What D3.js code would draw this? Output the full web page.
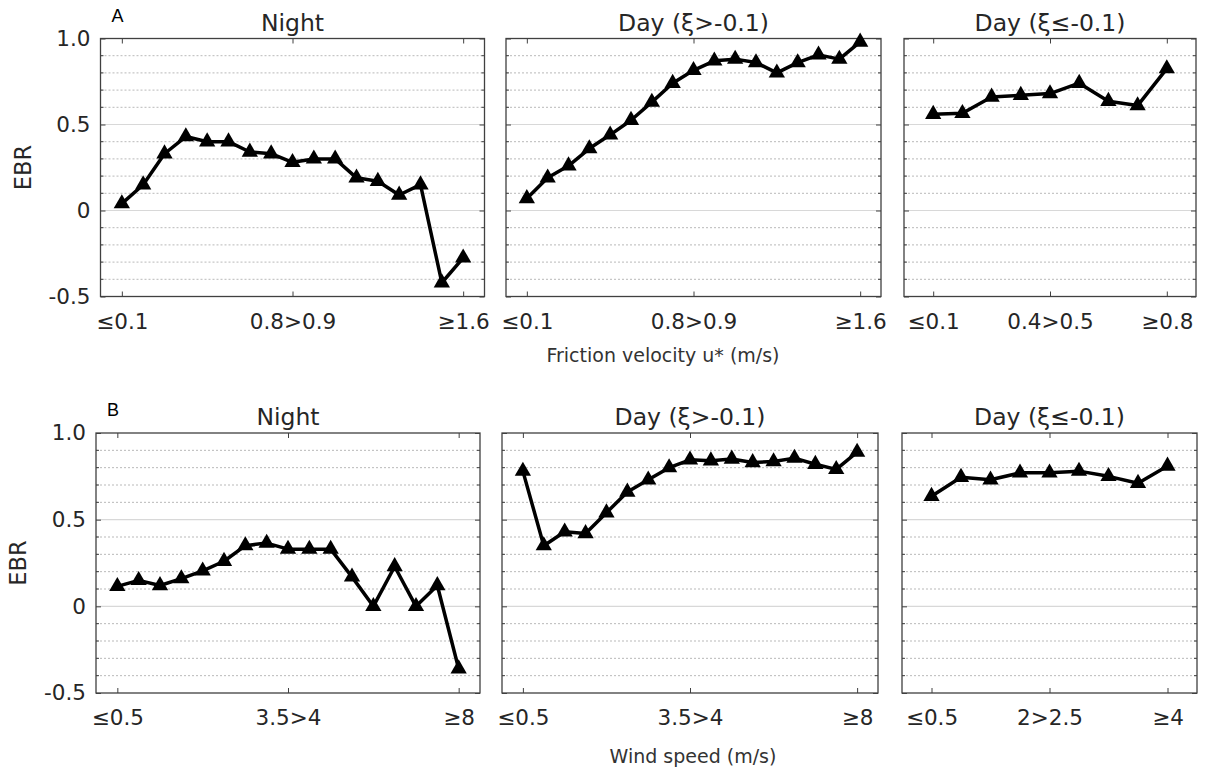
<!DOCTYPE html>
<html>
<head>
<meta charset="utf-8">
<script src="https://cdn.jsdelivr.net/npm/d3@7"></script>
<style>
  body { margin: 0; background: #fff; }
  svg { display: block; }
</style>
</head>
<body>
<svg id="chart" width="1205" height="771"></svg>
<script>
// Energy balance ratio (EBR) binned by friction velocity u*
const ebrUstarNight = [0.04, 0.15, 0.33, 0.43, 0.40, 0.40, 0.34, 0.33, 0.28, 0.30, 0.30, 0.19, 0.17, 0.09, 0.15, -0.42, -0.275];
const ebrUstarDayNeutral = [0.07, 0.19, 0.26, 0.36, 0.44, 0.525, 0.63, 0.74, 0.815, 0.87, 0.88, 0.86, 0.80, 0.86, 0.905, 0.88, 0.98];
const ebrUstarDayUnstable = [0.56, 0.565, 0.66, 0.67, 0.68, 0.74, 0.635, 0.61, 0.825];

// Energy balance ratio (EBR) binned by wind speed
const ebrWindNight = [0.115, 0.15, 0.12, 0.16, 0.205, 0.26, 0.35, 0.365, 0.33, 0.33, 0.33, 0.17, 0.0, 0.23, 0.0, 0.12, -0.36];
const ebrWindDayNeutral = [0.78, 0.35, 0.43, 0.42, 0.54, 0.66, 0.73, 0.80, 0.845, 0.84, 0.85, 0.83, 0.835, 0.855, 0.82, 0.79, 0.89];
const ebrWindDayUnstable = [0.635, 0.745, 0.73, 0.77, 0.77, 0.78, 0.75, 0.71, 0.81];

// Panel titles and axis texts
const panelTitles = ["Night", "Day (ξ>-0.1)", "Day (ξ≤-0.1)"];
const rowLetters = ["A", "B"];
const rowAxisLabels = ["Friction velocity u* (m/s)", "Wind speed (m/s)"];
const yAxisLabel = "EBR";

// Y ticks
const ebrMajorTicks = [-0.5, 0, 0.5, 1.0];
const ebrMajorTickLabels = ["-0.5", "0", "0.5", "1.0"];
const ebrMinorTicks = [-0.4, -0.3, -0.2, -0.1, 0.1, 0.2, 0.3, 0.4, 0.6, 0.7, 0.8, 0.9];

// X ticks (bin index and label)
const wideTickBins = [0, 8, 16];
const narrowTickBins = [0, 4, 8];
const ustarWideTickLabels = ["≤0.1", "0.8>0.9", "≥1.6"];
const ustarNarrowTickLabels = ["≤0.1", "0.4>0.5", "≥0.8"];
const windWideTickLabels = ["≤0.5", "3.5>4", "≥8"];
const windNarrowTickLabels = ["≤0.5", "2>2.5", "≥4"];

const FONT = "'DejaVu Sans', Verdana, sans-serif";
const TEXT = "#262626";
const AXIS = "#404040";

const svg = d3.select("#chart");

const rows = [
  {
    letter: rowLetters[0], axisLabel: rowAxisLabels[0],
    top: 38.5, bottom: 296.5, labelX: 663, labelY: 362,
    spans: [[100.5, 484.5], [506, 881], [904, 1196]],
    series: [ebrUstarNight, ebrUstarDayNeutral, ebrUstarDayUnstable],
    tickBins: [wideTickBins, wideTickBins, narrowTickBins],
    tickLabels: [ustarWideTickLabels, ustarWideTickLabels, ustarNarrowTickLabels]
  },
  {
    letter: rowLetters[1], axisLabel: rowAxisLabels[1],
    top: 433, bottom: 693, labelX: 693, labelY: 763,
    spans: [[96, 480], [502, 878], [902, 1197]],
    series: [ebrWindNight, ebrWindDayNeutral, ebrWindDayUnstable],
    tickBins: [wideTickBins, wideTickBins, narrowTickBins],
    tickLabels: [windWideTickLabels, windWideTickLabels, windNarrowTickLabels]
  }
];

rows.forEach(row => {
  const y = d3.scaleLinear().domain([-0.5, 1.0]).range([row.bottom, row.top]);

  row.spans.forEach((span, p) => {
    const values = row.series[p];
    const x = d3.scaleLinear().domain([-1, values.length]).range(span);
    const g = svg.append("g");
    const [x0, x1] = span;

    // minor grid (dotted)
    g.append("g").selectAll("line").data(ebrMinorTicks).join("line")
      .attr("x1", x0).attr("x2", x1)
      .attr("y1", d => y(d)).attr("y2", d => y(d))
      .attr("stroke", "#b9b9b9").attr("stroke-width", 1)
      .attr("stroke-dasharray", "2,2");

    // major grid (solid)
    g.append("g").selectAll("line").data(ebrMajorTicks.filter(d => d > -0.5 && d < 1)).join("line")
      .attr("x1", x0).attr("x2", x1)
      .attr("y1", d => y(d)).attr("y2", d => y(d))
      .attr("stroke", "#d8d8d8").attr("stroke-width", 1.2);

    // bottom axis with tick labels (ticks point inward)
    const bottomAxis = d3.axisBottom(x)
      .tickValues(row.tickBins[p])
      .tickFormat((d, i) => row.tickLabels[p][i])
      .tickSizeInner(-5).tickSizeOuter(0).tickPadding(17);
    const gb = g.append("g").attr("transform", `translate(0,${row.bottom})`).call(bottomAxis);
    gb.select(".domain").remove();
    gb.selectAll("line").attr("stroke", AXIS);
    gb.selectAll("text").attr("font-family", FONT).attr("font-size", 21.5).attr("fill", TEXT);

    // top axis (ticks only)
    const topAxis = d3.axisTop(x).tickValues(row.tickBins[p]).tickFormat("")
      .tickSizeInner(-5).tickSizeOuter(0);
    const gt = g.append("g").attr("transform", `translate(0,${row.top})`).call(topAxis);
    gt.select(".domain").remove();
    gt.selectAll("line").attr("stroke", AXIS);

    // left axis: labels only on the first panel
    const leftAxis = d3.axisLeft(y).tickValues(ebrMajorTicks)
      .tickFormat((d, i) => p === 0 ? ebrMajorTickLabels[i] : "")
      .tickSizeInner(-5).tickSizeOuter(0).tickPadding(10);
    const gl = g.append("g").attr("transform", `translate(${x0},0)`).call(leftAxis);
    gl.select(".domain").remove();
    gl.selectAll("line").attr("stroke", AXIS);
    gl.selectAll("text").attr("font-family", FONT).attr("font-size", 21.5).attr("fill", TEXT);

    const rightAxis = d3.axisRight(y).tickValues(ebrMajorTicks).tickFormat("")
      .tickSizeInner(-5).tickSizeOuter(0);
    const gr = g.append("g").attr("transform", `translate(${x1},0)`).call(rightAxis);
    gr.select(".domain").remove();
    gr.selectAll("line").attr("stroke", AXIS);

    // minor ticks on both sides
    [[x0, 1], [x1, -1]].forEach(([xe, dir]) => {
      g.append("g").selectAll("line").data(ebrMinorTicks).join("line")
        .attr("x1", xe).attr("x2", xe + dir * 3)
        .attr("y1", d => y(d)).attr("y2", d => y(d))
        .attr("stroke", AXIS).attr("stroke-width", 1);
    });

    // plot box
    g.append("rect")
      .attr("x", x0).attr("y", row.top)
      .attr("width", x1 - x0).attr("height", row.bottom - row.top)
      .attr("fill", "none").attr("stroke", AXIS).attr("stroke-width", 1.3);

    // panel title
    g.append("text")
      .attr("x", (x0 + x1) / 2).attr("y", row.top - 8)
      .attr("text-anchor", "middle")
      .attr("font-family", FONT).attr("font-size", 23.5).attr("fill", TEXT)
      .text(panelTitles[p]);

    // EBR line and triangle markers
    const line = d3.line().x((d, i) => x(i)).y(d => y(d));
    g.append("path").datum(values)
      .attr("d", line)
      .attr("fill", "none").attr("stroke", "#000")
      .attr("stroke-width", 3.5).attr("stroke-linejoin", "round");

    g.append("g").selectAll("path").data(values).join("path")
      .attr("transform", (d, i) => `translate(${x(i)},${y(d)})`)
      .attr("d", d3.symbol(d3.symbolTriangle, 115))
      .attr("fill", "#000");

    if (p === 0) {
      // y-axis title
      g.append("text")
        .attr("transform", `translate(${x0 - 70},${(row.top + row.bottom) / 2}) rotate(-90)`)
        .attr("text-anchor", "middle")
        .attr("font-family", FONT).attr("font-size", 22.5).attr("fill", TEXT)
        .text(yAxisLabel);

      // panel letter
      g.append("text")
        .attr("x", x0 + 11).attr("y", row.top - 17)
        .attr("font-family", "'Liberation Sans', Arial, sans-serif")
        .attr("font-size", 18).attr("fill", "#000")
        .text(row.letter);
    }
  });

  // shared x-axis title for the row
  svg.append("text")
    .attr("x", row.labelX).attr("y", row.labelY)
    .attr("text-anchor", "middle")
    .attr("font-family", FONT).attr("font-size", 19).attr("fill", "#333")
    .text(row.axisLabel);
});
</script>
</body>
</html>
